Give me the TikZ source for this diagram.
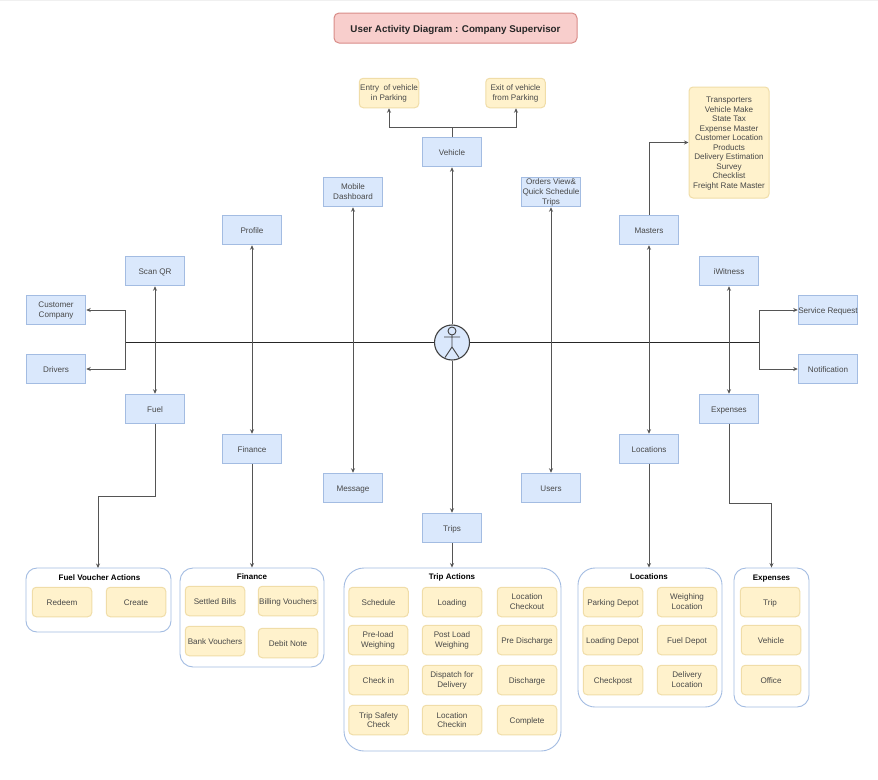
\documentclass[tikz,border=0pt]{standalone}
\usepackage{fontspec}
\setmainfont{Liberation Sans}
\usetikzlibrary{arrows.meta,calc}
\definecolor{bfill}{HTML}{DAE8FC}
\definecolor{bline}{HTML}{A3BCE2}
\definecolor{yfill}{HTML}{FFF2CC}
\definecolor{yline}{HTML}{F0DDA8}
\definecolor{tfill}{HTML}{F8CECC}
\definecolor{tline}{HTML}{D98C88}
\definecolor{conn}{HTML}{555555}
\definecolor{txt}{HTML}{484848}
\tikzset{
  x=1pt,y=-1pt,
  lowertext/.style={text depth=0pt,execute at begin node={\rule{0pt}{#1}}},
  oneline/.style={lowertext=7pt},
  multiline/.style={lowertext=8pt},
  multilow/.style={lowertext=10pt},
  bluebox/.style={draw=bline,fill=bfill,line width=1pt,minimum width=59.5pt,minimum height=29.5pt,inner sep=0pt,align=center,text=txt,oneline,font=\fontsize{8.1}{10}\selectfont},
  yellowbox/.style={draw=yline,fill=yfill,line width=1pt,rounded corners=4pt,minimum width=59.5pt,minimum height=29.5pt,inner sep=0pt,align=center,text=txt,oneline,font=\fontsize{8.1}{10}\selectfont},
  groupbox/.style={draw=bline,fill=white,line width=0.9pt,inner sep=0pt},
  grouptitle/.style={inner sep=0pt,align=center,oneline,font=\fontsize{8}{10}\selectfont\bfseries,text=black},
  link/.style={draw=conn,line width=0.9pt,-{Stealth[length=4.5pt,width=4pt]}},
  dlink/.style={draw=conn,line width=0.9pt,{Stealth[length=4.5pt,width=4pt]}-{Stealth[length=4.5pt,width=4pt]}},
  plainlink/.style={draw=conn,line width=0.9pt},
  axisline/.style={draw=black!85,line width=0.95pt},
}
\begin{document}
\begin{tikzpicture}
\useasboundingbox (0,0) rectangle (878,779);
\fill[white] (0,0) rectangle (878,779);
\fill[black!6] (0,0) rectangle (878,1);

% title
\node[draw=tline,fill=tfill,line width=1pt,rounded corners=5pt,minimum width=243pt,minimum height=30pt,inner sep=0pt,align=center,text=black!85,lowertext=8pt,font=\fontsize{9.8}{11}\selectfont\bfseries] (title) at (455.5,28) {User Activity Diagram : Company Supervisor};

% groups
\node[groupbox,rounded corners=11pt,minimum width=145pt,minimum height=64pt] (gfuel) at (98.5,600) {};
\node[groupbox,rounded corners=13pt,minimum width=144pt,minimum height=99pt] (gfin) at (252,617.5) {};
\node[groupbox,rounded corners=20pt,minimum width=217pt,minimum height=183pt] (gtrip) at (452.5,659.5) {};
\node[groupbox,rounded corners=17pt,minimum width=144pt,minimum height=139pt] (gloc) at (650,637.5) {};
\node[groupbox,rounded corners=12pt,minimum width=75pt,minimum height=139pt] (gexp) at (771.5,637.5) {};
\node[grouptitle] (tfuel) at (99.5,577) {Fuel Voucher Actions};
\node[grouptitle] (tfin) at (252,576) {Finance};
\node[grouptitle] (ttrip) at (452,576) {Trip Actions};
\node[grouptitle] (tloc) at (649,576) {Locations};
\node[grouptitle] (texp) at (771.5,577) {Expenses};

% blue boxes
\node[bluebox] (vehicle) at (452,152) {Vehicle};
\node[bluebox,multiline] (mobile) at (353,192) {Mobile\\Dashboard};
\node[bluebox,multiline] (orders) at (551,192) {Orders View\&\\Quick Schedule\\Trips};
\node[bluebox] (profile) at (252,230) {Profile};
\node[bluebox] (masters) at (649,230) {Masters};
\node[bluebox] (scan) at (155,271) {Scan QR};
\node[bluebox] (iwit) at (729,271) {iWitness};
\node[bluebox,multilow] (cust) at (56,310) {Customer\\Company};
\node[bluebox] (srv) at (828,310) {Service Request};
\node[bluebox] (drivers) at (56,369) {Drivers};
\node[bluebox] (notif) at (828,369) {Notification};
\node[bluebox] (fuel) at (155,409) {Fuel};
\node[bluebox] (exps) at (729,409) {Expenses};
\node[bluebox] (fin) at (252,449) {Finance};
\node[bluebox] (locs) at (649,449) {Locations};
\node[bluebox] (msg) at (353,488) {Message};
\node[bluebox] (users) at (551,488) {Users};
\node[bluebox] (trips) at (452,528) {Trips};

% yellow boxes: top
\node[yellowbox,multiline] (entry) at (389,93) {Entry~ of vehicle\\in Parking};
\node[yellowbox,multiline] (exit) at (515.5,93) {Exit of vehicle\\from Parking};
\node[yellowbox,minimum width=80pt,minimum height=111pt,lowertext=6pt,font=\fontsize{8.1}{9.5}\selectfont] (mlist) at (729,142.5) {Transporters\\Vehicle Make\\State Tax\\Expense Master\\Customer Location\\Products\\Delivery Estimation\\Survey\\Checklist\\Freight Rate Master};

% fuel items
\node[yellowbox] (redeem) at (62,602) {Redeem};
\node[yellowbox] (create) at (136,602) {Create};
% finance items
\node[yellowbox] (settled) at (215,601) {Settled Bills};
\node[yellowbox] (billing) at (288,601) {Billing Vouchers};
\node[yellowbox] (bank) at (215,641) {Bank Vouchers};
\node[yellowbox] (debit) at (288,643) {Debit Note};
% trip items
\node[yellowbox] (t11) at (378.5,602) {Schedule};
\node[yellowbox] (t12) at (452,602) {Loading};
\node[yellowbox,multilow] (t13) at (527,602) {Location\\Checkout};
\node[yellowbox,multiline] (t21) at (378,640) {Pre-load\\Weighing};
\node[yellowbox,multiline] (t22) at (452,640) {Post Load\\Weighing};
\node[yellowbox] (t23) at (527,640) {Pre Discharge};
\node[yellowbox] (t31) at (378.5,680) {Check in};
\node[yellowbox,multiline] (t32) at (452,680) {Dispatch for\\Delivery};
\node[yellowbox] (t33) at (527,680) {Discharge};
\node[yellowbox,multiline,font=\fontsize{8.1}{9}\selectfont] (t41) at (378.5,720) {Trip Safety\\Check};
\node[yellowbox,multiline,font=\fontsize{8.1}{9}\selectfont] (t42) at (452,720) {Location\\Checkin};
\node[yellowbox] (t43) at (527,720) {Complete};
% location items
\node[yellowbox] (l11) at (613,602) {Parking Depot};
\node[yellowbox,multilow] (l12) at (687,602) {Weighing\\Location};
\node[yellowbox] (l21) at (612.5,640) {Loading Depot};
\node[yellowbox] (l22) at (687,640) {Fuel Depot};
\node[yellowbox] (l31) at (613,680) {Checkpost};
\node[yellowbox,multiline] (l32) at (687,680) {Delivery\\Location};
% expense items
\node[yellowbox] (e1) at (770,602) {Trip};
\node[yellowbox] (e2) at (771,640) {Vehicle};
\node[yellowbox] (e3) at (771,680) {Office};

% free ends
\coordinate (hl) at (125,342.5);
\coordinate (hr) at (759,342.5);
\coordinate (vt) at (452,127);

% actor
\node[circle,draw=black!75,fill=bfill,line width=1.1pt,minimum size=35pt,inner sep=0pt] (actor) at (452,342.5) {};
\draw[black!75,line width=0.9pt] (452,331) circle (4);
\draw[black!75,line width=0.9pt] (444,337) -- (460,337) (452,335) -- (452,347) (445,357.5) -- (452,347) -- (459,357.5);

% axis
\draw[axisline] (actor) -- (hl);
\draw[axisline] (actor) -- (hr);

% connectors
\draw[link] (hl) |- (cust.east);
\draw[link] (hl) |- (drivers.east);
\draw[link] (hr) |- (srv.west);
\draw[link] (hr) |- (notif.west);
\draw[dlink] (scan) -- (fuel);
\draw[dlink] (profile) -- (fin);
\draw[dlink] (mobile) -- (msg);
\draw[dlink] (orders) -- (users);
\draw[dlink] (masters) -- (locs);
\draw[dlink] (iwit) -- (exps);
\draw[link] (actor) -- (vehicle);
\draw[link] (actor) -- (trips);
\draw[plainlink] (vehicle) -- (vt);
\draw[link] (vt) -| (entry.south);
\draw[link] (vt) -| ($(exit.south)+(0.5,0)$);
\draw[link] (masters.north) |- (mlist.west);
\draw[link] (fuel.south) -- (155,496) -- (98,496) -- (98,568);
\draw[link] (fin.south) -- (fin.south |- gfin.north);
\draw[link] (trips.south) -- (trips.south |- gtrip.north);
\draw[link] (locs.south) -- (locs.south |- gloc.north);
\draw[link] (exps.south) -- (729,503) -- (771.5,503) -- (gexp.north);
\end{tikzpicture}
\end{document}
